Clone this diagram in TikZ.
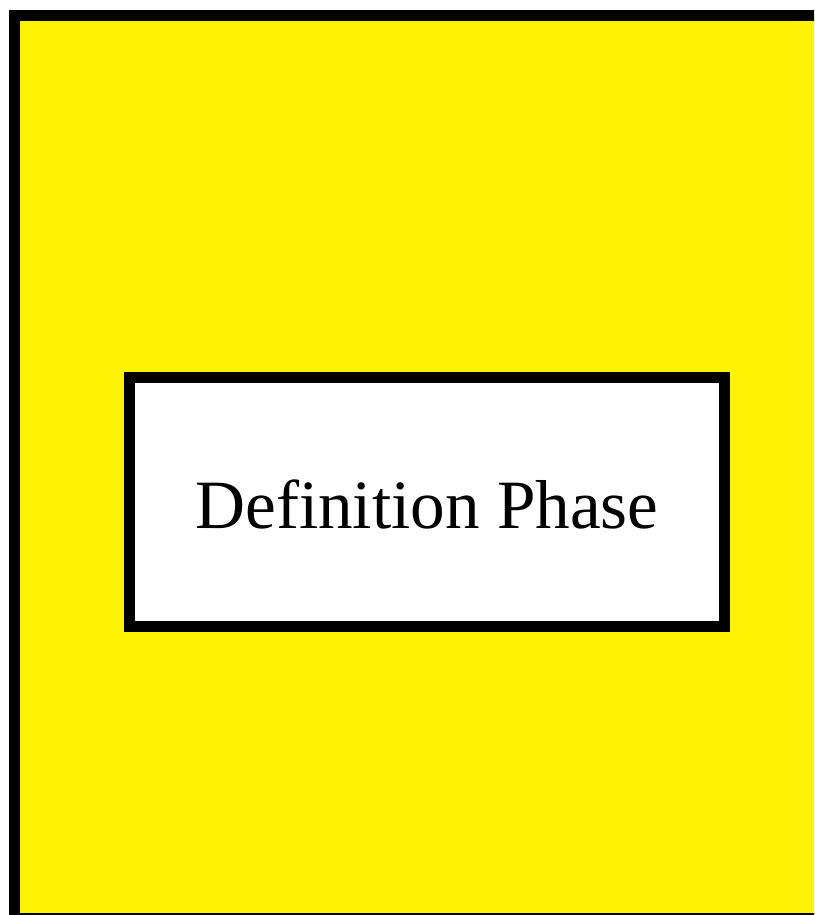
\documentclass[tikz,border=0pt]{standalone}
\usepackage{fontspec}
\setmainfont{Liberation Serif}
\usepackage{tikz}
\usetikzlibrary{positioning}
\definecolor{PhaseYellow}{HTML}{FFF205}

\begin{document}
\begin{tikzpicture}[x=1pt,y=-1pt,
    phasebox/.style={draw=black,line width=11pt,fill=white,
      minimum width=595pt,minimum height=249.5pt,inner sep=0pt,
      text height=52.5pt,text depth=0pt,
      font=\fontsize{69.2}{80}\selectfont}]
      \clip (0,0) rectangle (814,915);
      \fill[white] (0,0) rectangle (814,915);
      \draw[PhaseYellow,fill=PhaseYellow,draw=black,line width=11pt]
      (14.5,15.5) rectangle (840,918.5);
      \node[phasebox] (definition) at (427,501.75) {Definition Phase};
    \end{tikzpicture}
\end{document}
